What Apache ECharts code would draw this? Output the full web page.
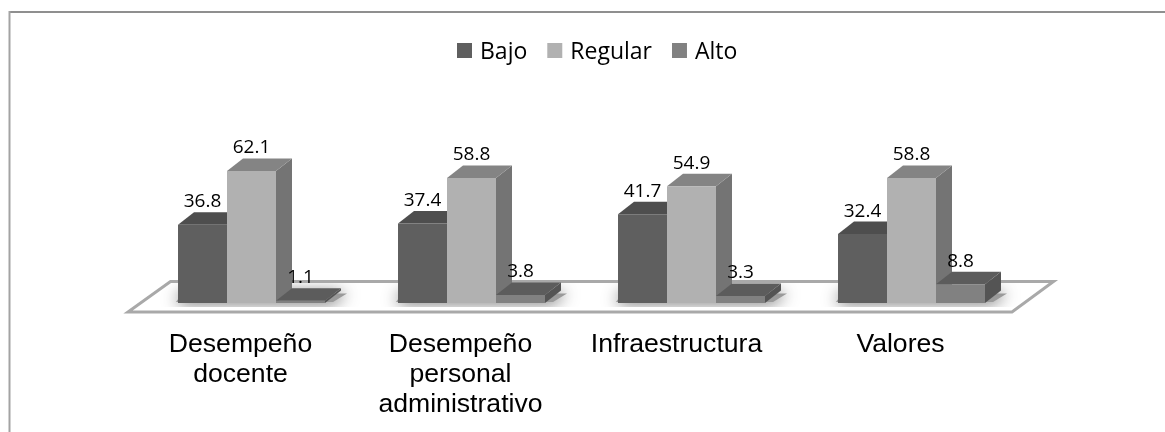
<!DOCTYPE html>
<html>
<head>
<meta charset="utf-8">
<style>
  html, body { margin: 0; padding: 0; background: #fff; }
  #chart { width: 1165px; height: 432px; }
</style>
<script src="https://cdn.jsdelivr.net/npm/echarts@6/dist/echarts.min.js"></script>
</head>
<body>
<div id="chart"></div>
<script>
const categories = ['Desempeño\ndocente', 'Desempeño\npersonal\nadministrativo', 'Infraestructura', 'Valores'];
const seriesNames = ['Bajo', 'Regular', 'Alto'];
const bajo = [36.8, 37.4, 41.7, 32.4];
const regular = [62.1, 58.8, 54.9, 58.8];
const alto = [1.1, 3.8, 3.3, 8.8];

const seriesValues = [bajo, regular, alto];
// front, top, side
const shades = [
  ['#5f5f5f', '#4e4e4e', '#4e4e4e'],
  ['#b1b1b1', '#848484', '#747474'],
  ['#818181', '#5c5c5c', '#545454']
];
const barShare = 0.2227;
const depthX = 16;
const depthY = 12.5;

const poly = (points, fill, z2) => ({
  type: 'polygon',
  z2: z2,
  shape: { points: points },
  style: { fill: fill }
});

// one 3d column: front face, lid, side and the value on top
const renderBar = (serieIdx) => (params, api) => {
  const cat = api.value(0);
  const val = api.value(1);
  const base = api.coord([cat, 0]);
  const head = api.coord([cat, val]);
  const barW = api.size([1, 0])[0] * barShare;
  const x0 = base[0] + (serieIdx - 1.5) * barW;
  const x1 = x0 + barW;
  const c = shades[serieIdx];
  return {
    type: 'group',
    children: [
      poly([[x1, head[1]], [x1 + depthX, head[1] - depthY], [x1 + depthX, base[1] - depthY], [x1, base[1]]], c[2], 1),
      poly([[x0, head[1]], [x1, head[1]], [x1 + depthX, head[1] - depthY], [x0 + depthX, head[1] - depthY]], c[1], 1),
      poly([[x0, head[1]], [x1, head[1]], [x1, base[1]], [x0, base[1]]], c[0], 2),
      {
        type: 'text',
        z2: 5,
        style: {
          x: (x0 + x1) / 2,
          y: head[1] - depthY - 1,
          text: val.toFixed(1),
          align: 'center',
          verticalAlign: 'bottom',
          fill: '#000',
          font: '19px "Open Sans"'
        }
      }
    ]
  };
};

// floor plate and the soft shadow under every group
const renderFloor = (params, api) => {
  const g = params.coordSys;
  const bottom = g.y + g.height;
  const right = g.x + g.width;
  const plate = [[g.x - 13.5, bottom + 9], [right - 9.5, bottom + 9], [right + 32, bottom - 21.5], [g.x + 29, bottom - 21.5]];
  const cat = api.value(0);
  const base = api.coord([cat, 0]);
  const barW = api.size([1, 0])[0] * barShare;
  const x0 = base[0] - 1.5 * barW;
  const x1 = base[0] + 1.5 * barW;
  const children = [{
    type: 'polygon',
    z2: 1,
    shape: { points: [[x0 - 2, bottom - 1], [x1 + 8, bottom - 1], [x1 + depthX + 6, bottom - depthY + 3], [x0 + 4, bottom - depthY + 3]] },
    style: { fill: '#9a9a9a', shadowBlur: 16, shadowColor: 'rgba(0,0,0,0.8)' },
    clipPath: { type: 'rect', shape: { x: x0 - 30, y: bottom - 20, width: x1 - x0 + 80, height: 24 } }
  }];
  if (params.dataIndex === 0) {
    children.unshift({
      type: 'polygon',
      z2: 0,
      shape: { points: plate },
      style: { fill: '#fff', stroke: '#a9a9a9', lineWidth: 3 }
    });
  }
  return { type: 'group', children: children };
};

const getOption = () => ({
  animation: false,
  backgroundColor: '#fff',
  graphic: [
    { type: 'line', shape: { x1: 9, y1: 12, x2: 1165, y2: 12 }, style: { stroke: '#8f8f8f', lineWidth: 2 } },
    { type: 'line', shape: { x1: 9.5, y1: 11, x2: 9.5, y2: 432 }, style: { stroke: '#a3a3a3', lineWidth: 2 } }
  ],
  legend: {
    data: seriesNames,
    left: 457,
    top: 41,
    padding: 0,
    icon: 'rect',
    itemWidth: 15,
    itemHeight: 15,
    itemGap: 20,
    formatter: '{t|{name}}',
    textStyle: {
      rich: {
        t: { fontFamily: 'Open Sans', fontSize: 23, color: '#000', padding: [4, 0, 0, 3] }
      }
    }
  },
  grid: { left: 141.5, width: 880, top: 90.4, height: 212.6 },
  xAxis: {
    type: 'category',
    data: categories,
    axisLine: { show: false },
    axisTick: { show: false },
    axisLabel: {
      interval: 0,
      margin: 27,
      color: '#000',
      fontFamily: 'Liberation Sans',
      fontSize: 26.6,
      lineHeight: 30,
      padding: [0, 22, 0, 0],
      formatter: (v) => v === 'Infraestructura' ? '{shifted|' + v + '}' : v,
      rich: {
        shifted: { fontFamily: 'Liberation Sans', fontSize: 26.6, lineHeight: 30, color: '#000', padding: [0, 8, 0, 0] }
      }
    }
  },
  yAxis: { type: 'value', min: 0, max: 100, show: false },
  series: [
    {
      type: 'custom',
      name: 'floor',
      silent: true,
      renderItem: renderFloor,
      encode: { x: 0 },
      data: categories.map((c, i) => [i]),
      z: 1
    }
  ].concat(seriesNames.map((name, s) => ({
    type: 'custom',
    name: name,
    renderItem: renderBar(s),
    encode: { x: 0, y: 1 },
    itemStyle: { color: shades[s][0] },
    data: seriesValues[s].map((v, i) => [i, v]),
    z: 2 + s
  })))
});

window.addEventListener('load', () => {
  const chart = echarts.init(document.getElementById('chart'));
  chart.setOption(getOption());
});
</script>
</body>
</html>
